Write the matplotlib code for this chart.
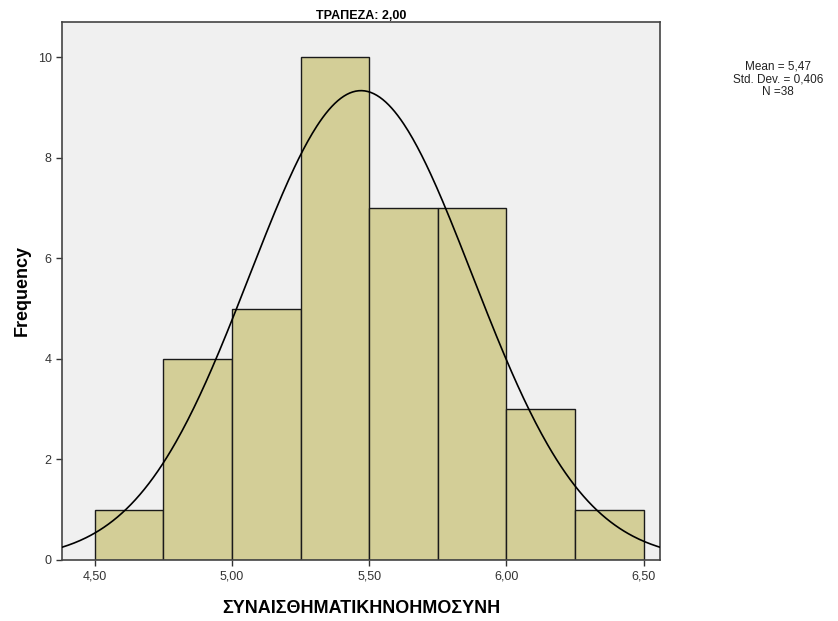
import numpy as np
import matplotlib
matplotlib.use("Agg")
import matplotlib.pyplot as plt

bin_edges = [4.50, 4.75, 5.00, 5.25, 5.50, 5.75, 6.00, 6.25, 6.50]
counts = [1, 4, 5, 10, 7, 7, 3, 1]
mean, sd, n = 5.47, 0.406, 38
xticks = [4.5, 5.0, 5.5, 6.0, 6.5]
xticklabels = ["4,50", "5,00", "5,50", "6,00", "6,50"]
yticks = [0, 2, 4, 6, 8, 10]

plt.rcParams['font.family'] = ['Liberation Sans', 'DejaVu Sans']

fig = plt.figure(figsize=(8.38, 6.21), dpi=100)
ax = fig.add_axes([62/838, 61/621, (660-62)/838, (560-22)/621])
ax.set_facecolor('#F0F0F0')

widths = np.diff(bin_edges)
ax.bar(bin_edges[:-1], counts, width=widths, align='edge', color='#D3CE97',
       edgecolor='#1a1a1a', linewidth=1.0, zorder=2)

xmin, xmax = 4.38, 6.56
xs = np.linspace(xmin, xmax, 400)
bw = 0.25
ys = n * bw / (sd * np.sqrt(2*np.pi)) * np.exp(-0.5*((xs-mean)/sd)**2)
ax.plot(xs, ys, color='black', linewidth=1.2, zorder=3)

ax.set_xlim(xmin, xmax)
ax.set_ylim(0, 10.7)
ax.set_xticks(xticks)
ax.set_xticklabels(xticklabels)
ax.set_yticks(yticks)
ax.tick_params(axis='both', direction='out', length=4, width=1, labelsize=9, color='#333333', labelcolor='#333333')
for s in ax.spines.values():
    s.set_color('#444444')
    s.set_linewidth(1.2)

ax.set_xlabel("ΣΥΝΑΙΣΘΗΜΑΤΙΚΗΝΟΗΜΟΣΥΝΗ", fontsize=13, fontweight='bold', labelpad=13)
ax.set_ylabel("Frequency", fontsize=13, fontweight='bold', labelpad=5)
ax.set_title("ΤΡΑΠΕΖΑ: 2,00", fontsize=9, fontweight='bold', pad=2)

fig.text(778/838, 1-(79/621), "Mean = 5,47\nStd. Dev. = 0,406\nN =38", ha='center', va='center',
         fontsize=8.5, linespacing=1.1, color='#222222')

fig.savefig("out.png", dpi=100)
